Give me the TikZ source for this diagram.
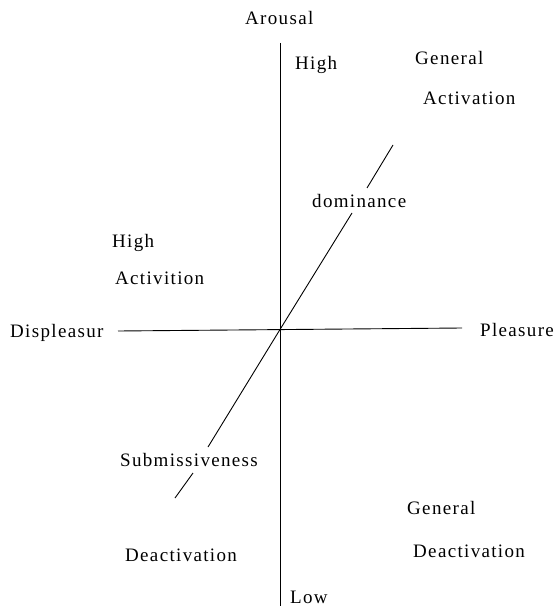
\documentclass[tikz,border=0pt]{standalone}
\usepackage{fontspec}
\setmainfont{Liberation Serif}[LetterSpace=7]
\begin{document}
\begin{tikzpicture}[x=1pt,y=-1pt,
  lbl/.style={anchor=base west,inner sep=0pt,font=\fontsize{19}{22}\selectfont},
  axis/.style={line width=0.9pt}]
\useasboundingbox (0,0) rectangle (556,607);
% axes
\coordinate (o) at (280,329.5);
\coordinate (vt) at (280,43);
\coordinate (vb) at (280,606);
\coordinate (hl) at (118,331);
\coordinate (hr) at (462,328);
\draw[axis] (vt) -- (vb);
\draw[axis] (hl) -- (hr);
% diagonal dominance line
\coordinate (d1) at (175,498);
\coordinate (d2) at (193,473);
\coordinate (d3) at (208,447);
\coordinate (d4) at (352,213);
\coordinate (d5) at (367,188);
\coordinate (d6) at (393,145);
\draw[axis] (d1) -- (d2);
\draw[axis] (d3) -- (o) -- (d4);
\draw[axis] (d5) -- (d6);
% labels
\node[lbl] (arousal) at (245,25) {Arousal};
\node[lbl] (hightop) at (295,70) {High};
\node[lbl] (gen1) at (415,65) {General};
\node[lbl] (act1) at (423,105) {Activation};
\node[lbl] (dom) at (312,207) {dominance};
\node[lbl] (highl) at (112,247) {High};
\node[lbl] (actl) at (115,284) {Activition};
\node[lbl] (displ) at (10,337) {Displeasur};
\node[lbl] (pleas) at (480,336) {Pleasure};
\node[lbl] (subm) at (120,466) {Submissiveness};
\node[lbl] (gen2) at (407,514) {General};
\node[lbl] (deact2) at (413,557) {Deactivation};
\node[lbl] (deact1) at (125,561) {Deactivation};
\node[lbl] (low) at (290,603) {Low};
\end{tikzpicture}
\end{document}
